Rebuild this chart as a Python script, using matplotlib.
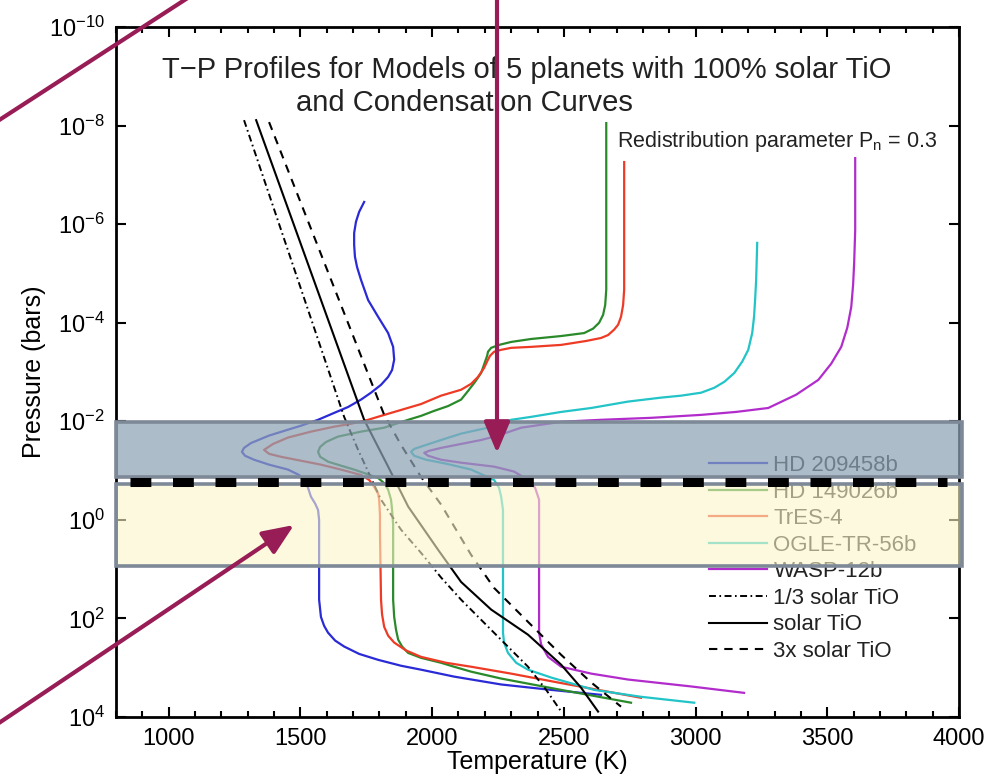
import numpy as np
import matplotlib
matplotlib.use('Agg')
import matplotlib.pyplot as plt
import matplotlib.transforms as mtransforms
from matplotlib.patches import Rectangle, FancyArrowPatch
from matplotlib.ticker import MultipleLocator, FixedLocator, NullLocator
from matplotlib.lines import Line2D

plt.rcParams['font.family'] = ['Liberation Sans', 'DejaVu Sans']
plt.rcParams['mathtext.fontset'] = 'custom'
plt.rcParams['mathtext.rm'] = 'Liberation Sans'
plt.rcParams['mathtext.it'] = 'Liberation Sans:italic'
plt.rcParams['lines.scale_dashes'] = False

## T-P profiles: temperature (K) and log10 pressure (bars)
hd209_T = [1742, 1723, 1711, 1704, 1704, 1707, 1715, 1730, 1757, 1795, 1833, 1852, 1856, 1848, 1833,
           1806, 1768, 1730, 1681, 1628, 1567, 1502, 1453, 1381, 1313, 1286, 1278, 1290, 1324, 1381,
           1453, 1495, 1514, 1529, 1540, 1556, 1567, 1571, 1571, 1575, 1578, 1590, 1605, 1632, 1666,
           1723, 1795, 1882, 1958, 2083, 2262, 2452, 2641]
hd209_logP = [-6.45, -6.25, -6.05, -5.82, -5.58, -5.34, -5.13, -4.87, -4.46, -4.12, -3.79, -3.51, -3.25,
              -3.04, -2.90, -2.74, -2.58, -2.44, -2.29, -2.17, -2.03, -1.91, -1.83, -1.71, -1.56, -1.46,
              -1.38, -1.30, -1.22, -1.12, -1.02, -0.91, -0.81, -0.65, -0.47, -0.33, -0.20, 0.00, 1.62,
              1.82, 1.97, 2.15, 2.29, 2.45, 2.57, 2.72, 2.84, 2.96, 3.04, 3.18, 3.34, 3.45, 3.55]

hd149_T = [2661, 2661, 2657, 2649, 2634, 2611, 2577, 2490, 2376, 2300, 2254, 2224, 2212, 2209, 2201,
           2186, 2163, 2137, 2110, 2061, 2007, 1958, 1909, 1863, 1818, 1730, 1643, 1597, 1575, 1567,
           1575, 1605, 1654, 1704, 1753, 1795, 1821, 1833, 1844, 1848, 1852, 1852, 1856, 1863, 1871,
           1886, 1909, 1958, 2034, 2083, 2148, 2262, 2490, 2755]
hd149_logP = [-8.05, -4.67, -4.36, -4.16, -4.00, -3.88, -3.79, -3.73, -3.67, -3.61, -3.55, -3.49, -3.41,
              -3.33, -3.21, -2.98, -2.80, -2.62, -2.44, -2.31, -2.21, -2.11, -2.03, -1.95, -1.87, -1.79,
              -1.69, -1.58, -1.48, -1.38, -1.28, -1.18, -1.10, -1.02, -0.93, -0.85, -0.73, -0.61, -0.41,
              -0.20, 0.10, 1.62, 1.97, 2.23, 2.43, 2.57, 2.70, 2.80, 2.90, 2.98, 3.08, 3.22, 3.45, 3.71]

tres4_T = [2729, 2729, 2725, 2717, 2706, 2691, 2668, 2641, 2585, 2490, 2376, 2300, 2262, 2235, 2220,
           2212, 2197, 2174, 2148, 2110, 2034, 1958, 1882, 1806, 1757, 1692, 1628, 1540, 1453, 1396,
           1362, 1381, 1426, 1502, 1578, 1654, 1730, 1761, 1780, 1795, 1799, 1802, 1802, 1806, 1810,
           1818, 1833, 1856, 1901, 1958, 2053, 2148, 2300, 2478, 2793]
tres4_logP = [-7.26, -4.67, -4.36, -4.12, -3.96, -3.86, -3.75, -3.69, -3.63, -3.55, -3.51, -3.49, -3.45,
              -3.41, -3.33, -3.25, -3.08, -2.90, -2.76, -2.64, -2.52, -2.35, -2.23, -2.11, -2.03, -1.95,
              -1.89, -1.79, -1.67, -1.54, -1.42, -1.34, -1.28, -1.20, -1.12, -1.02, -0.91, -0.81, -0.67,
              -0.53, -0.41, -0.10, 0.26, 1.62, 1.92, 2.17, 2.35, 2.49, 2.65, 2.78, 2.90, 2.98, 3.12, 3.30,
              3.61]

ogle_T = [3234, 3230, 3226, 3222, 3215, 3200, 3177, 3147, 3109, 3071, 3021, 2945, 2869, 2744, 2604,
          2490, 2376, 2300, 2212, 2110, 2034, 1977, 1932, 1920, 1932, 1977, 2053, 2148, 2235, 2254,
          2262, 2269, 2269, 2269, 2273, 2288, 2319, 2364, 2452, 2615, 2793, 2995]
ogle_logP = [-5.62, -4.87, -4.46, -4.12, -3.79, -3.45, -3.21, -2.98, -2.80, -2.68, -2.58, -2.52, -2.48,
             -2.40, -2.27, -2.19, -2.09, -2.03, -1.87, -1.75, -1.62, -1.52, -1.44, -1.38, -1.30, -1.22,
             -1.14, -1.02, -0.81, -0.65, -0.47, -0.20, 0.26, 2.29, 2.49, 2.70, 2.90, 3.04, 3.20, 3.45,
             3.59, 3.71]

wasp12_T = [3606, 3606, 3602, 3598, 3591, 3576, 3553, 3515, 3466, 3382, 3276, 3154, 3021, 2831, 2641,
            2490, 2338, 2250, 2186, 2110, 2034, 1988, 1970, 1985, 2034, 2110, 2235, 2311, 2364, 2391,
            2406, 2406, 2406, 2414, 2440, 2490, 2604, 2744, 2983, 3184]
wasp12_logP = [-7.34, -5.88, -5.21, -4.77, -4.32, -3.90, -3.51, -3.17, -2.84, -2.54, -2.27, -2.19, -2.13,
               -2.07, -2.03, -1.99, -1.87, -1.71, -1.62, -1.54, -1.46, -1.40, -1.36, -1.30, -1.22, -1.16,
               -1.08, -0.98, -0.81, -0.65, -0.41, -0.10, 2.29, 2.53, 2.78, 2.98, 3.12, 3.24, 3.38, 3.51]

## condensation curves
third_T = [1286, 1666, 1719, 1806, 1882, 1958, 2034, 2110, 2235, 2364, 2433, 2490]
third_logP = [-8.11, -2.09, -1.42, -0.41, 0.20, 0.67, 1.17, 1.62, 2.29, 2.98, 3.45, 3.89]
solar_T = [1332, 1742, 1833, 1909, 2023, 2110, 2224, 2364, 2490, 2566, 2630]
solar_logP = [-8.11, -2.03, -1.08, -0.27, 0.61, 1.26, 1.82, 2.33, 2.94, 3.41, 3.89]
triple_T = [1381, 1818, 1882, 1958, 2034, 2091, 2148, 2235, 2364, 2490, 2604, 2717]
triple_logP = [-8.07, -2.13, -1.52, -0.87, -0.31, 0.20, 0.71, 1.38, 2.07, 2.74, 3.30, 3.79]

planet_names = ['HD 209458b', 'HD 149026b', 'TrES-4', 'OGLE-TR-56b', 'WASP-12b']
planet_colors = ['#2a2ad6', '#2a8a2a', '#ee3b25', '#22c4c8', '#b22ccc']
cond_names = ['1/3 solar TiO', 'solar TiO', '3x solar TiO']

y_ticks = [-10, -8, -6, -4, -2, 0, 2, 4]
x_ticks = [1000, 1500, 2000, 2500, 3000, 3500, 4000]

# highlighted pressure bands (log10 bars) and marker line
band_upper = (-1.98, -0.87)
band_lower = (-0.73, 0.93)
marker_logP = -0.77

W, H = 1003, 777
fig = plt.figure(figsize=(W / 100, H / 100), dpi=100)
ax = fig.add_axes([116 / W, 60 / H, 843 / W, 690 / H])

planets = [(hd209_T, hd209_logP), (hd149_T, hd149_logP), (tres4_T, tres4_logP),
           (ogle_T, ogle_logP), (wasp12_T, wasp12_logP)]
for (T, lp), name, col in zip(planets, planet_names, planet_colors):
    ax.plot(T, 10.0 ** np.array(lp), color=col, lw=1.6, label=name, solid_joinstyle='round')

ax.plot(third_T, 10.0 ** np.array(third_logP), color='black', lw=1.4,
        dashes=(5, 2.5, 1.2, 2.5), label=cond_names[0])
ax.plot(solar_T, 10.0 ** np.array(solar_logP), color='black', lw=1.5, label=cond_names[1],
        solid_joinstyle='round')
ax.plot(triple_T, 10.0 ** np.array(triple_logP), color='black', lw=1.5,
        dashes=(6, 5), label=cond_names[2])

ax.set_yscale('log')
ax.set_xlim(800, 4000)
ax.set_ylim(1e4, 1e-10)

ax.yaxis.set_major_locator(FixedLocator([10.0 ** e for e in y_ticks]))
ax.yaxis.set_minor_locator(NullLocator())
ax.set_yticklabels([r'$10^{%d}$' % e if e >= 0 else r'$10^{\minus%d}$' % -e for e in y_ticks])
ax.xaxis.set_major_locator(FixedLocator(x_ticks))
ax.xaxis.set_minor_locator(MultipleLocator(100))
ax.tick_params(which='both', direction='in', top=True, right=True, labelsize=17, width=1.5)
ax.tick_params(which='major', length=7, pad=8)
ax.tick_params(which='minor', length=4)
for s in ax.spines.values():
    s.set_linewidth(2)

ax.set_xlabel('Temperature (K)', fontsize=18, labelpad=0)
ax.set_ylabel('Pressure (bars)', fontsize=18, labelpad=2)

txt = '#222222'
fig.text(527 / W, 1 - 70 / H, 'T\u2212P Profiles for Models of 5 planets with 100% solar TiO',
         fontsize=21, ha='center', va='center', color=txt)
fig.text(464 / W, 1 - 103 / H, 'and Condensation Curves',
         fontsize=21, ha='center', va='center', color=txt)
fig.text(617 / W, 1 - 142 / H, r'Redistribution parameter P$_{\rm n}$ = 0.3',
         fontsize=15.5, ha='left', va='center', color=txt)

leg = ax.legend(loc='upper left', bbox_to_anchor=(709 / W, 1 - 455 / H),
                bbox_transform=fig.transFigure, frameon=False, fontsize=16,
                handlelength=2.6, handletextpad=0.3, labelspacing=0.25, borderpad=0,
                borderaxespad=0)
for t in leg.get_texts():
    t.set_color(txt)

# overlay bands
trans = mtransforms.blended_transform_factory(ax.transAxes, ax.transData)
edge = '#7e8998'
for (lo, hi), fc, a in [(band_upper, '#8ea2b5', 0.72), (band_lower, '#fbf6c8', 0.6)]:
    r = Rectangle((0.0, 10.0 ** lo), 1.003, 10.0 ** hi - 10.0 ** lo, transform=trans,
                  facecolor=fc, alpha=a, edgecolor='none', zorder=8, clip_on=False)
    ax.add_patch(r)
    r2 = Rectangle((0.0, 10.0 ** lo), 1.003, 10.0 ** hi - 10.0 ** lo, transform=trans,
                   facecolor='none', edgecolor=edge, lw=2.6, zorder=9, clip_on=False)
    ax.add_patch(r2)

ax.plot([0.0166, 0.986], [10.0 ** marker_logP] * 2, transform=trans, color='black',
        lw=6.5, dashes=(15, 15.6), solid_capstyle='butt', dash_capstyle='butt',
        zorder=10, clip_on=False)

# maroon arrows drawn in figure pixels
mar = '#981c55'
def fp(x, y):
    return (x / W, 1 - y / H)

fig.add_artist(Line2D([fp(-10, 126)[0], fp(200, -10)[0]], [fp(-10, 126)[1], fp(200, -10)[1]],
                      transform=fig.transFigure, color=mar, lw=3, zorder=20))
for start, end in [((497, -10), (497, 453)), ((-10, 729), (294, 525))]:
    fig.add_artist(FancyArrowPatch(fp(*start), fp(*end), transform=fig.transFigure,
                                   arrowstyle='-|>,head_length=1.0,head_width=0.42',
                                   mutation_scale=19, color=mar, lw=3, zorder=20,
                                   shrinkA=0, shrinkB=0))

fig.savefig('out.png', dpi=100)
